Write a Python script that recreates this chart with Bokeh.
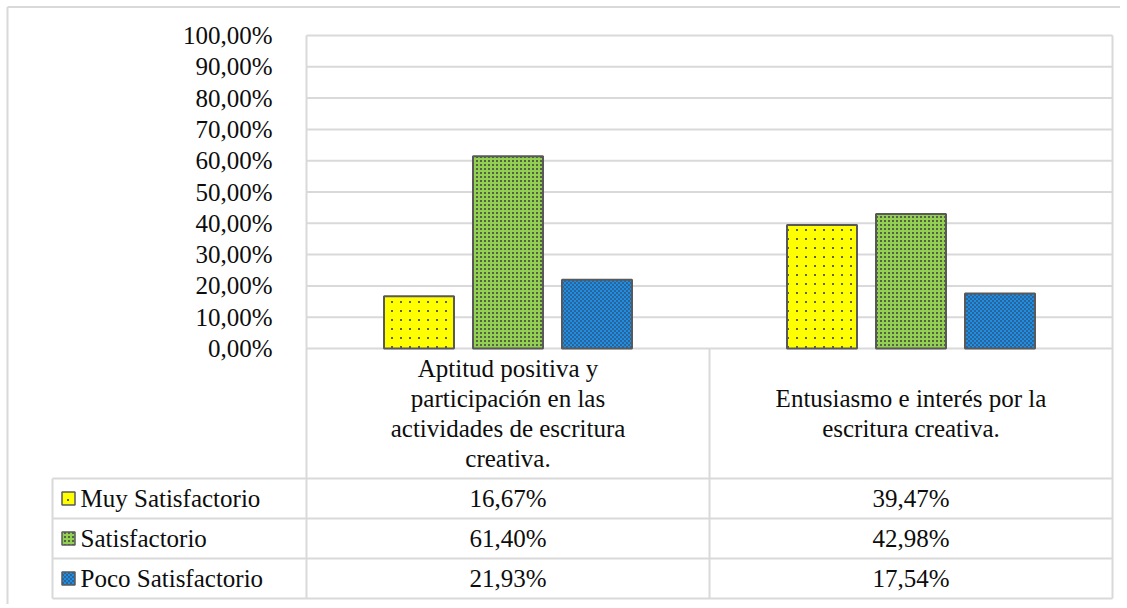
import zlib, struct, base64
from bokeh.plotting import figure
from bokeh.models import ColumnDataSource, Range1d, LinearAxis, FixedTicker, ImageURLTexture
from bokeh.core.properties import value
from bokeh.embed import file_html
from bokeh.resources import INLINE

# ---------------- data ----------------
categories = [
    "Aptitud positiva y\nparticipación en las\nactividades de escritura\ncreativa.",
    "Entusiasmo e interés por la\nescritura creativa.",
]
series_names = ["Muy Satisfactorio", "Satisfactorio", "Poco Satisfactorio"]
muy_satisfactorio = [0.1667, 0.3947]
satisfactorio = [0.6140, 0.4298]
poco_satisfactorio = [0.2193, 0.1754]
y_ticks = [0.0, 0.1, 0.2, 0.3, 0.4, 0.5, 0.6, 0.7, 0.8, 0.9, 1.0]
y_tick_labels = ["0,00%", "10,00%", "20,00%", "30,00%", "40,00%", "50,00%",
                 "60,00%", "70,00%", "80,00%", "90,00%", "100,00%"]

series_values = [muy_satisfactorio, satisfactorio, poco_satisfactorio]


# ---------------- pattern textures ----------------
def _hex(c):
    c = c.lstrip("#")
    return (int(c[0:2], 16), int(c[2:4], 16), int(c[4:6], 16), 255)


def make_png(rows):
    raw = b"".join(b"\x00" + bytes([v for px in row for v in px]) for row in rows)

    def chunk(t, d):
        return struct.pack(">I", len(d)) + t + d + struct.pack(">I", zlib.crc32(t + d) & 0xffffffff)

    w, h = len(rows[0]), len(rows)
    ihdr = struct.pack(">IIBBBBB", w, h, 8, 6, 0, 0, 0)
    data = b"\x89PNG\r\n\x1a\n" + chunk(b"IHDR", ihdr) + chunk(b"IDAT", zlib.compress(raw)) + chunk(b"IEND", b"")
    return "data:image/png;base64," + base64.b64encode(data).decode()


def tile(size, bg, fg, cells):
    b, f = _hex(bg), _hex(fg)
    return [[f if (x, y) in cells else b for x in range(size)] for y in range(size)]


yellow_tile = tile(9, "#ffff00", "#5f5f4a", {(4, 4), (5, 4), (4, 5), (5, 5)})
green_tile = tile(4, "#92d050", "#56604a", {(0, 0), (1, 0), (0, 1), (1, 1)})
blue_tile = tile(4, "#1b8fe6", "#2f6396", {(0, 0), (1, 0), (0, 1), (1, 1), (2, 2), (3, 2), (2, 3), (3, 3)})

textures = {
    "p_yellow": ImageURLTexture(url=make_png(yellow_tile), repetition="repeat"),
    "p_green": ImageURLTexture(url=make_png(green_tile), repetition="repeat"),
    "p_blue": ImageURLTexture(url=make_png(blue_tile), repetition="repeat"),
}

# ---------------- styles ----------------
FONT_NAME = "'Liberation Serif', 'Times New Roman', 'DejaVu Serif', serif"
FONT = value(FONT_NAME)
FS = "25px"
TXT = "#0d0d0d"
GRID = "#d9d9d9"
OUT = "#595959"
styles = [
    dict(fill_color="#ffff00", hatch_pattern=value("p_yellow"), hatch_extra=textures),
    dict(fill_color="#92d050", hatch_pattern=value("p_green"), hatch_extra=textures),
    dict(fill_color="#1b8fe6", hatch_pattern=value("p_blue"), hatch_extra=textures),
]

# ---------------- layout (page pixels -> data) ----------------
W, H = 1120, 604
OFF = 0
PL, PR = 306, 1112          # plot area left / right
P0, P100 = 348, 35          # y pixel of 0% and 100%
CW = (PR - PL) / len(categories)
SY = P0 - P100


def xd(px):
    return (px - PL) / CW


def yd(py):
    return (P0 - py) / SY


p = figure(width=W, height=H, output_backend="svg", toolbar_location=None,
           x_range=Range1d(xd(OFF), xd(OFF + W)), y_range=Range1d(yd(OFF + H), yd(OFF)),
           min_border=0)
p.xaxis.visible = False
p.yaxis.visible = False
p.xgrid.visible = False
p.ygrid.visible = False
p.outline_line_color = None
p.background_fill_color = "white"
p.border_fill_color = "white"

# outer chart border (top/left)
p.segment(x0=[xd(7), xd(7)], y0=[yd(6.5), yd(6.5)],
          x1=[xd(OFF + W), xd(7)], y1=[yd(6.5), yd(OFF + H)],
          line_color=GRID, line_width=2)

# gridlines
p.segment(x0=[0] * len(y_ticks), x1=[len(categories)] * len(y_ticks),
          y0=y_ticks, y1=y_ticks, line_color=GRID, line_width=2)

# y axis placed at the plot-area left edge
yax = LinearAxis(fixed_location=0, bounds=(0, 1), ticker=FixedTicker(ticks=y_ticks),
                 major_label_overrides={t: l for t, l in zip(y_ticks, y_tick_labels)},
                 axis_line_color=None, major_tick_line_color=None, minor_tick_line_color=None,
                 major_label_standoff=28, major_label_text_font=FONT_NAME,
                 major_label_text_font_size=FS, major_label_text_color=TXT)
p.add_layout(yax, "left")

# table geometry
row_tops = [478, 518, 558]
row_h = 40
LEG_L = 52
header_center = (P0 + row_tops[0]) / 2
ncat = len(categories)

hx0, hx1, hy = [], [], []
for y in [row_tops[0], row_tops[1], row_tops[2], row_tops[2] + row_h]:
    hx0.append(xd(LEG_L)); hx1.append(ncat); hy.append(yd(y))
p.segment(x0=hx0, x1=hx1, y0=hy, y1=hy, line_color=GRID, line_width=2)
# vertical lines
vx = [0, ncat, xd(LEG_L)] + list(range(1, ncat))
vy0 = [1.0, 1.0, yd(row_tops[0])] + [0.0] * (ncat - 1)
vy1 = [yd(row_tops[2] + row_h)] * len(vx)
p.segment(x0=vx, x1=vx, y0=vy0, y1=vy1, line_color=GRID, line_width=2)

# bars
bar_w = 70 / CW
step = 89 / CW
for i, (name, vals) in enumerate(zip(series_names, series_values)):
    xs = [c + 0.5 + (i - 1) * step for c in range(ncat)]
    src = ColumnDataSource(dict(x=xs, top=vals))
    p.vbar(x="x", top="top", width=bar_w, bottom=0, source=src,
           line_color=OUT, line_width=2, **styles[i])

# category headers
LH = 30
tx, ty, tt = [], [], []
for c, cat in enumerate(categories):
    lines = cat.split("\n")
    n = len(lines)
    for k, ln in enumerate(lines):
        tx.append(c + 0.5)
        ty.append(yd(header_center + (k - (n - 1) / 2) * LH))
        tt.append(ln)
p.text(x=tx, y=ty, text=tt, text_font=FONT, text_font_size=FS, text_color=TXT,
       text_align="center", text_baseline="middle")

# table rows: legend keys, names, values
for i, (name, vals) in enumerate(zip(series_names, series_values)):
    cy = yd(row_tops[i] + row_h / 2)
    p.rect(x=[xd(68)], y=[cy], width=13, height=13, width_units="screen", height_units="screen",
           line_color=OUT, line_width=1.5, **styles[i])
    p.text(x=[xd(80)], y=[cy], text=[name], text_font=FONT, text_font_size=FS, text_color=TXT,
           text_align="left", text_baseline="middle")
    labels = [f"{v * 100:.2f}%".replace(".", ",") for v in vals]
    p.text(x=[c + 0.5 for c in range(ncat)], y=[cy] * ncat, text=labels, text_font=FONT,
           text_font_size=FS, text_color=TXT, text_align="center", text_baseline="middle")

open("out.html", "w").write(file_html(p, INLINE))
